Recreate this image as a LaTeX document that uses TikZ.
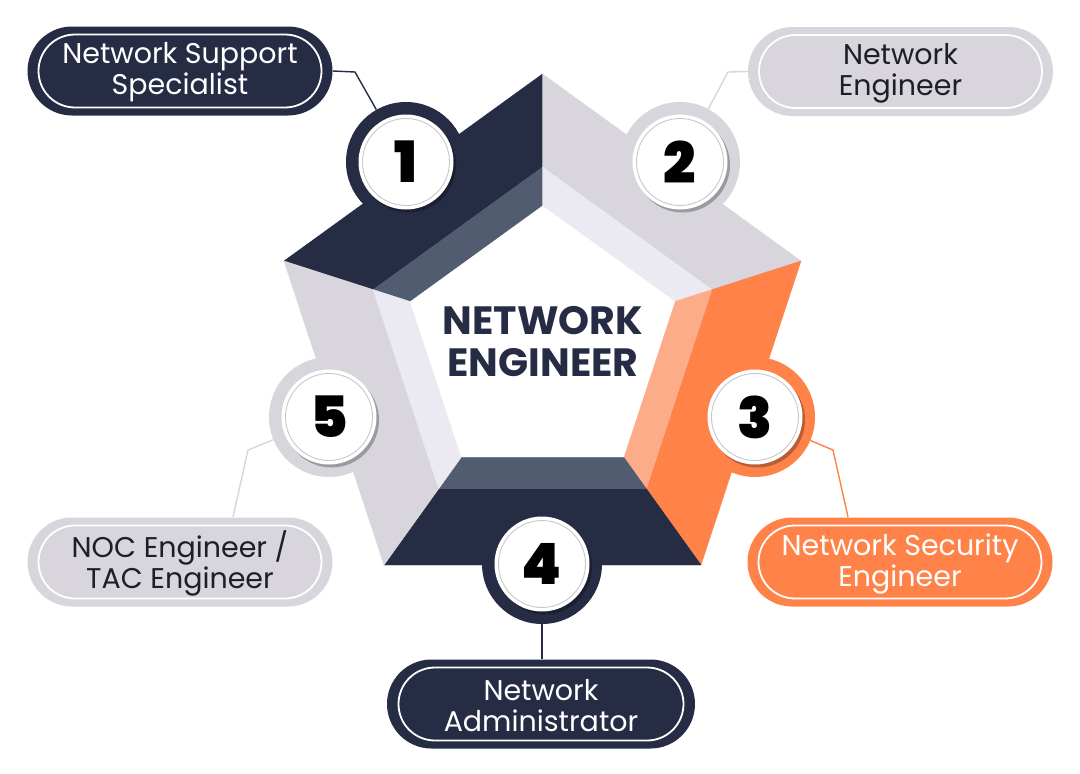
\documentclass[tikz,border=0pt]{standalone}
\usepackage{fontspec}
\setmainfont{Poppins}
\newfontfamily\numfont{Poppins Black}
\usetikzlibrary{calc,shapes.misc}
\definecolor{navy}{HTML}{262C43}
\definecolor{slate}{HTML}{525C70}
\definecolor{lgray}{HTML}{D8D6DC}
\definecolor{llgray}{HTML}{EBE9F2}
\definecolor{orng}{HTML}{FF8249}
\definecolor{lorng}{HTML}{FDAC8A}
\definecolor{ringgray}{HTML}{C9C7CD}
\definecolor{txtdark}{HTML}{1E1E24}
\begin{document}
\begin{tikzpicture}[x=1pt,y=-1pt,
  pill/.style={rounded rectangle, minimum width=305pt, minimum height=89pt, inner sep=0pt},
  pillin/.style={rounded rectangle, minimum width=283pt, minimum height=73pt, inner sep=0pt, draw=white, line width=1.8pt},
  ptext/.style={align=center, inner sep=0pt, font=\fontsize{28.5}{31}\selectfont},
  ring/.style={circle, minimum size=120pt, inner sep=0pt},
  disc/.style={circle, minimum size=95pt, inner sep=0pt, fill=white},
  num/.style={font=\fontsize{57}{57}\numfont, text=black, inner sep=0pt},
  conn/.style={line width=1.4pt},
  seg/.style={line width=0.4pt, line join=round}
]
\useasboundingbox (0,0) rectangle (1080,774);
\fill[white] (0,0) rectangle (1080,774);

\coordinate (C) at (542.5,344);
\coordinate (V1) at (284,261);
\coordinate (V2) at (542.5,74);
\coordinate (V3) at (801,261);
\coordinate (V4) at (701,565);
\coordinate (V5) at (384,565);
\foreach \i in {1,...,5} {
  \coordinate (M\i) at ($(C)!0.655!(V\i)$);
  \coordinate (I\i) at ($(C)!0.514!(V\i)$);
}

% pentagon segments
\filldraw[seg, fill=navy, draw=navy] (V1)--(V2)--(M2)--(M1)--cycle;
\filldraw[seg, fill=slate, draw=slate] (M1)--(M2)--(I2)--(I1)--cycle;
\filldraw[seg, fill=lgray, draw=lgray] (V2)--(V3)--(M3)--(M2)--cycle;
\filldraw[seg, fill=llgray, draw=llgray] (M2)--(M3)--(I3)--(I2)--cycle;
\filldraw[seg, fill=orng, draw=orng] (V3)--(V4)--(M4)--(M3)--cycle;
\filldraw[seg, fill=lorng, draw=lorng] (M3)--(M4)--(I4)--(I3)--cycle;
\filldraw[seg, fill=navy, draw=navy] (V4)--(V5)--(M5)--(M4)--cycle;
\filldraw[seg, fill=slate, draw=slate] (M4)--(M5)--(I5)--(I4)--cycle;
\filldraw[seg, fill=lgray, draw=lgray] (V5)--(V1)--(M1)--(M5)--cycle;
\filldraw[seg, fill=llgray, draw=llgray] (M5)--(M1)--(I1)--(I5)--cycle;

% number circles
\node[ring, fill=navy]  (c1) at (406,162) {};
\node[ring, fill=lgray] (c2) at (680,162) {};
\node[ring, fill=orng]  (c3) at (755,417) {};
\node[ring, fill=navy]  (c4) at (542,564) {};
\node[ring, fill=lgray] (c5) at (329,417) {};
\foreach \c/\n in {c1/1,c2/2,c3/3,c4/4,c5/5} {
  \fill[black, opacity=0.28] ($(\c)+(2.5,3)$) circle (47.5);
  \node[disc] (d\n) at (\c) {};
  \draw[ringgray, line width=0.9pt] (\c) circle (43.5);
  \node[num] (n\n) at (\c) {\n};
}

% labels
\node[pill, fill=navy] (p1) at (180,71) {};
\node[pillin] (o1) at (p1) {};
\node[ptext, text=white] (t1) at ($(p1)+(0,1.5)$) {Network Support\\Specialist};
\node[pill, fill=lgray] (p2) at (900.5,71.5) {};
\node[pillin] (o2) at (p2) {};
\node[ptext, text=txtdark] (t2) at ($(p2)+(0,1.5)$) {Network\\Engineer};
\node[pill, fill=orng] (p3) at (900,562) {};
\node[pillin] (o3) at (p3) {};
\node[ptext, text=white] (t3) at ($(p3)+(0,1.5)$) {Network Security\\Engineer};
\node[pill, fill=navy, minimum width=308pt] (p4) at (541,704) {};
\node[pillin, minimum width=285pt] (o4) at (p4) {};
\node[ptext, text=white] (t4) at ($(p4)+(0,1.5)$) {Network\\Administrator};
\node[pill, fill=lgray] (p5) at (180,562) {};
\node[pillin] (o5) at (p5) {};
\node[ptext, text=txtdark] (t5) at ($(p5)+(0,1.5)$) {NOC Engineer /\\TAC Engineer};

% connectors
\coordinate (k1) at (355,72);
\draw[conn, navy] (p1.east) -- (k1) -- (c1);
\coordinate (k2) at (728,72);
\draw[conn, lgray] (p2.west) -- (k2) -- (c2);
\coordinate (k3) at (833,450);
\coordinate (e3) at (848,517);
\draw[conn, orng] (c3) -- (k3) -- (e3);
\coordinate (k5) at (248,450);
\coordinate (e5) at (233,517);
\draw[conn, lgray] (c5) -- (k5) -- (e5);
\draw[conn, navy] (c4.south) -- (c4.south |- p4.north);

% centre title
\node[font=\fontsize{39.5}{42}\selectfont\bfseries, text=navy, align=center] (title) at (543,342) {NETWORK\\ENGINEER};
\end{tikzpicture}
\end{document}
